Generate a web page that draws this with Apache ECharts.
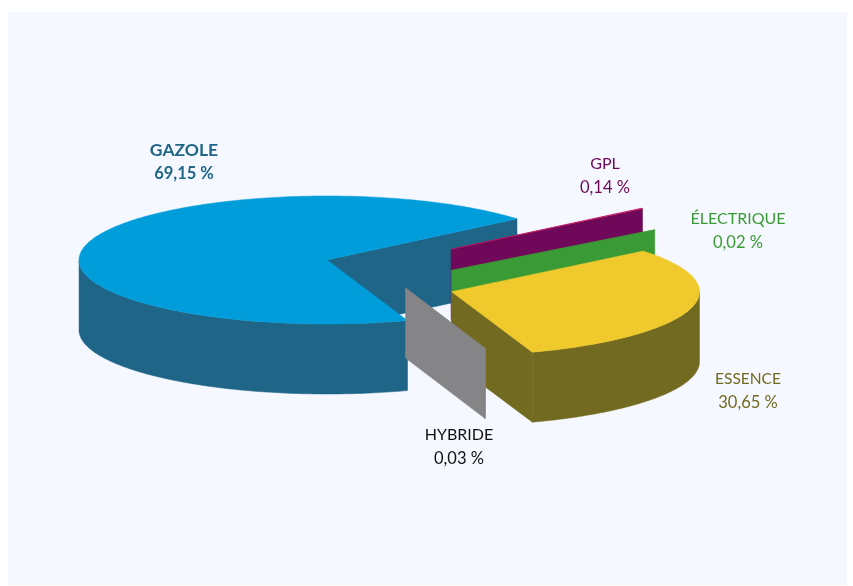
<!DOCTYPE html>
<html>
<head>
<meta charset="utf-8">
<style>
html, body { margin: 0; padding: 0; background: #fff; }
#chart { width: 853px; height: 586px; }
</style>
<script src="https://cdn.jsdelivr.net/npm/echarts@6/dist/echarts.min.js"></script>
</head>
<body>
<div id="chart"></div>
<script>
// counter clockwise from the first cut, shares in %
var categories = ['GAZOLE', 'HYBRIDE', 'ESSENCE', 'ÉLECTRIQUE', 'GPL'];
var shares = [69.15, 0.03, 30.65, 0.02, 0.14];

// pie geometry
var centerX = 327, centerY = 260, radiusX = 248, radiusY = 64, depth = 70;
var startAngle = 40;

// per slice: explode offset, drawing order, colours, label position
var sliceStyles = [
    { dx: 0, dy: 0, rx: radiusX, z: 1, top: '#009ddb', wall: '#1f6587', text: '#1f6587', labelX: 184, labelY: 162, weight: 'bold', nameSize: 17.5 },
    { dx: 78.5, dy: 28, rx: 245, z: 5, top: '#858487', wall: '#858487', text: '#111111', labelX: 459, labelY: 447, weight: 'normal', nameSize: 16 },
    { dx: 124.5, dy: 31.7, rx: radiusX, z: 4, top: '#f0c92c', wall: '#716a20', text: '#716a20', labelX: 748, labelY: 391, weight: 'normal', nameSize: 15.5 },
    { dx: 124.5, dy: 10.5, rx: 263, z: 3, top: '#3a9a35', wall: '#3a9a35', text: '#3a9a35', labelX: 738, labelY: 231, weight: 'normal', nameSize: 16 },
    { dx: 124, dy: -10.7, rx: 248, z: 2, top: '#c8175f', wall: '#6f0859', text: '#6f0859', labelX: 605, labelY: 176, weight: 'normal', nameSize: 16 }
];

var seriesData = categories.map(function (name, i) {
    return { name: name, value: [shares[i], i] };
});

function sliceStart(index) {
    var angle = startAngle;
    for (var i = 0; i < index; i++) angle += shares[i] * 3.6;
    return angle;
}

function renderSlice(params, api) {
    var index = api.value(1);
    var s = sliceStyles[index];
    var a0 = sliceStart(index);
    var a1 = a0 + api.value(0) * 3.6;
    var cx = centerX + s.dx, cy = centerY + s.dy;

    function pt(deg, drop) {
        var t = deg * Math.PI / 180;
        return [cx + s.rx * Math.cos(t), cy - radiusY * Math.sin(t) + (drop || 0)];
    }
    function poly(points, color, z2) {
        return {
            type: 'polygon',
            shape: { points: points },
            style: { fill: color, stroke: color, lineWidth: 0.5 },
            z2: s.z * 10 + z2
        };
    }

    var children = [];

    // cut walls, only the ones facing the viewer
    if (Math.cos(a0 * Math.PI / 180) > 0) {
        children.push(poly([[cx, cy], pt(a0), pt(a0, depth), [cx, cy + depth]], s.wall, 0));
    }
    if (Math.cos(a1 * Math.PI / 180) < 0) {
        children.push(poly([[cx, cy], pt(a1), pt(a1, depth), [cx, cy + depth]], s.wall, 0));
    }

    // outer wall, front half of the ellipse only, ends on the exact cut angles
    var front = [];
    var marks = [a0];
    for (var k = Math.ceil(a0); k < a1; k++) marks.push(k);
    marks.push(a1);
    marks.forEach(function (m) {
        if (Math.sin(m * Math.PI / 180) <= 0) front.push(m);
    });
    if (front.length > 1) {
        var upper = front.map(function (d) { return pt(d); });
        var lower = front.map(function (d) { return pt(d, depth); }).reverse();
        children.push(poly(upper.concat(lower), s.wall, 1));
    }

    // top face
    var topFace = [[cx, cy]].concat(marks.map(function (d) { return pt(d); }));
    children.push(poly(topFace, s.top, 2));

    // label
    children.push({
        type: 'text',
        z2: 100,
        style: {
            x: s.labelX,
            y: s.labelY,
            text: '{n|' + categories[index] + '}\n{v|' + api.value(0).toFixed(2).replace('.', ',') + ' %}',
            align: 'center',
            verticalAlign: 'middle',
            rich: {
                n: { fill: s.text, fontFamily: 'Lato', fontWeight: s.weight, fontSize: s.nameSize, lineHeight: 24, align: 'center' },
                v: { fill: s.text, fontFamily: 'Lato', fontWeight: s.weight, fontSize: 16.5, lineHeight: 24, align: 'center' }
            }
        }
    });

    return { type: 'group', children: children };
}

var chart = echarts.init(document.getElementById('chart'));
chart.setOption({
    animation: false,
    backgroundColor: '#ffffff',
    graphic: [{
        type: 'rect',
        z: -1,
        shape: { x: 8, y: 12, width: 839, height: 573 },
        style: { fill: '#f5f8ff' }
    }],
    series: [{
        type: 'custom',
        coordinateSystem: 'none',
        renderItem: renderSlice,
        data: seriesData
    }]
});
</script>
</body>
</html>
